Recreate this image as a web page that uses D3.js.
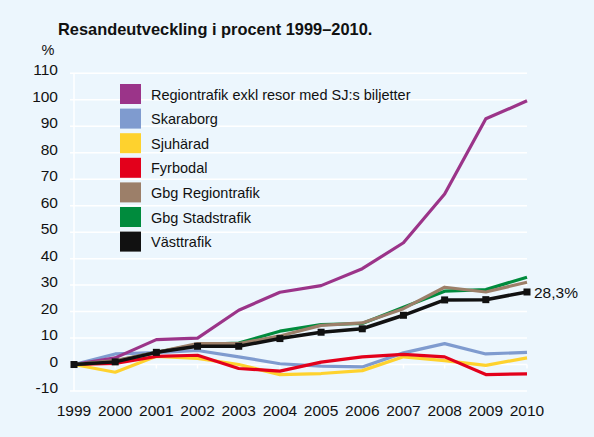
<!DOCTYPE html>
<html><head><meta charset="utf-8">
<script src="https://cdn.jsdelivr.net/npm/d3@7"></script>
<style>
html,body{margin:0;padding:0;background:#ecf6fd;}
svg{display:block;font-family:"Liberation Sans",Arial,Helvetica,sans-serif;}
</style></head>
<body>
<svg id="c" width="594" height="437"></svg>
<script>
const years = [1999,2000,2001,2002,2003,2004,2005,2006,2007,2008,2009,2010];
const yTicks = [-10,0,10,20,30,40,50,60,70,80,90,100,110];
const seriesNames = ["Regiontrafik exkl resor med SJ:s biljetter","Skaraborg","Sjuhärad","Fyrbodal","Gbg Regiontrafik","Gbg Stadstrafik","Västtrafik"];
const seriesColors = ["#9b3489","#7f9bcf","#fed22e","#e3001b","#9c7f69","#008b3d","#111111"];
const regiontrafik = [0,2.5,9.4,10,20.5,27.3,29.8,36.2,46,64.4,92.8,99.6];
const skaraborg   = [0,4,4.5,5.3,2.9,0.3,-0.6,-0.9,4.4,7.9,4,4.6];
const sjuharad    = [0,-2.9,3.1,2.3,0,-3.8,-3.4,-2.3,2.9,1.5,-0.3,2.5];
const fyrbodal    = [0,0.4,3.1,3.5,-1.5,-2.5,0.9,2.9,3.8,2.9,-3.8,-3.5];
const gbgRegion   = [0,1.5,4.6,7.9,7.9,10.8,14.8,15.7,21.1,29.2,27.4,31.1];
const gbgStad     = [0,1.3,4.6,7.5,8.1,12.6,15.1,15.5,21.6,27.7,28.3,33];
const vasttrafik  = [0,1,4.6,6.9,6.9,9.8,12.2,13.5,18.6,24.4,24.5,27.4];
const endLabel = "28,3%";
const title = "Resandeutveckling i procent 1999–2010.";

const allSeries = [regiontrafik,skaraborg,sjuharad,fyrbodal,gbgRegion,gbgStad,vasttrafik];
const svg = d3.select("#c");
const x = d3.scalePoint().domain(years).range([74,527]);
const y = d3.scaleLinear().domain([-10,110]).range([391,73.3]);
const ink = "#111";

svg.append("text").attr("x",58).attr("y",35).attr("font-weight","bold").attr("font-size",16.4).attr("fill",ink).text(title);
svg.append("text").attr("x",48).attr("y",55).attr("text-anchor","middle").attr("font-size",14.5).attr("fill",ink).text("%");

// grid
svg.append("g").selectAll("line").data(yTicks).join("line")
  .attr("x1",70).attr("x2",527).attr("y1",d=>y(d)).attr("y2",d=>y(d))
  .attr("stroke","#fff").attr("stroke-width",1.5);
svg.append("line").attr("x1",74).attr("x2",74).attr("y1",y(110)).attr("y2",y(-10)).attr("stroke","#fff").attr("stroke-width",1.5);
svg.append("g").selectAll("line").data(years.slice(1)).join("line")
  .attr("x1",d=>x(d)).attr("x2",d=>x(d)).attr("y1",y(0)).attr("y2",y(0)+4)
  .attr("stroke","#fff").attr("stroke-width",1.5);

// y labels
svg.append("g").selectAll("text").data(yTicks).join("text")
  .attr("x",58).attr("y",d=>y(d)+2).attr("text-anchor","end").attr("font-size",15.5).attr("fill",ink)
  .text(d=>d);
// x labels
svg.append("g").selectAll("text").data(years).join("text")
  .attr("x",d=>x(d)).attr("y",416).attr("text-anchor","middle").attr("font-size",15.5).attr("fill",ink)
  .text(d=>d);

// legend
const lg = svg.append("g");
seriesNames.forEach((n,i)=>{
  lg.append("rect").attr("x",120).attr("y",84+i*24.6).attr("width",21).attr("height",20).attr("fill",seriesColors[i]);
  lg.append("text").attr("x",151).attr("y",99.5+i*24.6).attr("font-size",14.5).attr("fill",ink).text(n);
});

// lines
const line = d3.line().x((d,i)=>x(years[i])).y(d=>y(d));
const order = [1,2,3,0,5,4,6];
order.forEach(i=>{
  svg.append("path").attr("d",line(allSeries[i])).attr("fill","none")
    .attr("stroke",seriesColors[i]).attr("stroke-width",i===6?3.5:3.2).attr("stroke-linejoin","round");
});
svg.append("g").selectAll("rect").data(vasttrafik).join("rect")
  .attr("x",(d,i)=>x(years[i])-3.5).attr("y",d=>y(d)-3.5).attr("width",7).attr("height",7).attr("fill","#111");

svg.append("text").attr("x",534).attr("y",y(vasttrafik[11])+6).attr("font-size",15.5).attr("fill",ink).text(endLabel);
</script>
</body></html>
